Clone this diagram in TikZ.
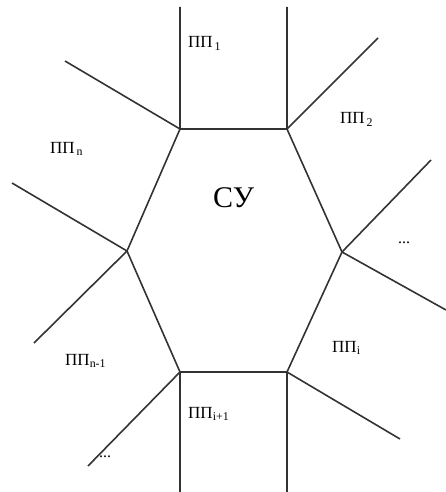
\documentclass[tikz,border=0pt]{standalone}
\usepackage{fontspec}
\setmainfont{Liberation Serif}
\usetikzlibrary{positioning}
\tikzset{
  edge/.style={line width=1.6pt,black!80},
  lbl/.style={anchor=base west,inner sep=0pt,font=\fontsize{17}{17}\selectfont},
  big/.style={anchor=base west,inner sep=0pt,font=\fontsize{30}{30}\selectfont},
  dots/.style={inner sep=0pt,font=\fontsize{16}{16}\selectfont},
}
\newcommand{\pp}[1]{ПП\textsubscript{#1}}

\begin{document}
\begin{tikzpicture}[x=1pt,y=-1pt]
  \useasboundingbox (0,0) rectangle (446,492);
  % control unit
  \coordinate (v1) at (180,129);
  \coordinate (v2) at (287,129);
  \coordinate (v3) at (342,252);
  \coordinate (v4) at (287,372);
  \coordinate (v5) at (180,372);
  \coordinate (v6) at (127,251);
  \draw[edge] (v1)--(v2)--(v3)--(v4)--(v5)--(v6)--cycle;
  % free ends of the borders
  \coordinate (t1) at (180,7);   \coordinate (t2) at (287,7);
  \coordinate (a1) at (65,61);   \coordinate (a2) at (378,38);
  \coordinate (r1) at (431,160); \coordinate (r2) at (446,310);
  \coordinate (l1) at (12,183);  \coordinate (l2) at (34,343);
  \coordinate (b1) at (180,492); \coordinate (b2) at (287,492);
  \coordinate (b3) at (88,466);  \coordinate (b4) at (400,439);
  \draw[edge] (v1)--(t1) (v1)--(a1) (v2)--(t2) (v2)--(a2);
  \draw[edge] (v3)--(r1) (v3)--(r2) (v6)--(l1) (v6)--(l2);
  \draw[edge] (v5)--(b1) (v5)--(b3) (v4)--(b2) (v4)--(b4);
  % labels
  \node[big] (cu) at (213,207) {СУ};
  \node[lbl] (p1) at (188,48) {\pp{\,1}};
  \node[lbl] (p2) at (340,124) {\pp{\,2}};
  \node[lbl] (pn) at (50,153) {\pp{\,n}};
  \node[lbl] (pn1) at (65,365) {\pp{n-1}};
  \node[lbl] (pi) at (332,352) {\pp{i}};
  \node[lbl] (pi1) at (188,418) {\pp{i+1}};
  \node[dots] (d1) at (404,243) {...};
  \node[dots] (d2) at (105,457) {...};
\end{tikzpicture}
\end{document}
